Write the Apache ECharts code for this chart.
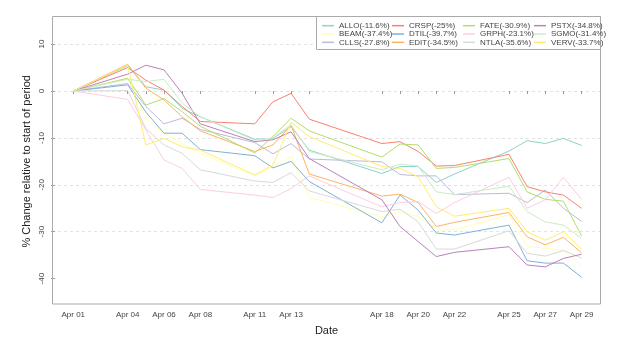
<!DOCTYPE html>
<html>
<head>
<meta charset="utf-8">
<script src="https://cdn.jsdelivr.net/npm/echarts@6/dist/echarts.min.js"></script>
<style>html,body{margin:0;padding:0;background:#fff;}#c{width:627px;height:344px;}</style>
</head>
<body>
<div id="c"></div>
<script>
// Trading days in April (day of month)
const days = [1,4,5,6,7,8,11,12,13,14,18,19,20,21,22,25,26,27,28,29];
const tickLabelDays = [1,4,6,8,11,13,18,20,22,25,27,29];
const yTickValues = [-40,-30,-20,-10,0,10];

const seriesNames = ['ALLO(-11.6%)','BEAM(-37.4%)','CLLS(-27.8%)','CRSP(-25%)','DTIL(-39.7%)','EDIT(-34.5%)',
                     'FATE(-30.9%)','GRPH(-23.1%)','NTLA(-35.6%)','PSTX(-34.8%)','SGMO(-31.4%)','VERV(-33.7%)'];
const seriesColors = ['#8DD3C7','#FFFFB3','#BEBADA','#FB8072','#80B1D3','#FDB462',
                      '#B3DE69','#FCCDE5','#D9D9D9','#BC80BD','#CCEBC5','#FFED6F'];

const ALLO = [0, 5.4, 0.9, 0.2, -3.7, -5.5, -10.3, -10.1, -7.6, -12.6, -17.6, -16.1, -16.1, -19.5, -17.7, -12.8, -10.6, -11.2, -10.1, -11.6];
const BEAM = [0, 2.8, -5.8, -9.0, -11.2, -13.3, -18.1, -16.1, -14.0, -22.7, -26.8, -25.7, -26.8, -29.6, -29.6, -26.4, -33.2, -33.5, -34.0, -37.4];
const CLLS = [0, 1.6, -3.3, -7.0, -5.8, -8.2, -11.0, -13.4, -11.2, -14.5, -15.1, -17.8, -18.1, -18.1, -22.1, -21.8, -23.8, -21.1, -25.0, -27.8];
const CRSP = [0, 5.0, 2.3, 0.2, -3.3, -6.5, -7.0, -2.3, -0.5, -6.0, -11.2, -10.8, -12.9, -16.0, -15.9, -13.5, -20.4, -21.5, -22.2, -25.0];
const DTIL = [0, 1.3, -4.5, -9.0, -9.0, -12.5, -13.8, -16.4, -15.0, -19.3, -28.1, -22.2, -25.4, -30.3, -30.7, -28.6, -36.2, -36.7, -36.7, -39.7];
const EDIT = [0, 5.7, 0.6, -1.9, -5.5, -8.5, -12.9, -11.5, -7.3, -17.7, -22.4, -22.0, -23.8, -28.9, -28.0, -25.9, -31.1, -32.8, -31.2, -34.5];
const FATE = [0, 2.7, -3.0, -1.6, -4.4, -7.5, -13.2, -9.7, -5.8, -8.5, -14.1, -11.3, -11.5, -16.5, -16.3, -14.4, -21.5, -23.1, -23.5, -30.9];
const GRPH = [0, -1.8, -8.3, -14.7, -16.5, -21.0, -22.2, -22.7, -20.8, -18.1, -24.7, -23.8, -23.6, -26.1, -23.8, -18.4, -25.0, -23.2, -18.4, -23.1];
const NTLA = [0, 0.1, -8.0, -11.5, -13.3, -16.8, -19.2, -19.5, -17.4, -21.3, -25.7, -25.2, -27.9, -33.7, -33.7, -29.8, -34.6, -35.2, -34.0, -35.6];
const PSTX = [0, 3.6, 5.5, 4.5, -0.5, -7.0, -10.8, -10.4, -8.7, -14.4, -23.2, -28.9, -32.1, -35.3, -34.4, -33.2, -37.1, -37.5, -35.7, -34.8];
const SGMO = [0, 2.5, 2.0, 2.5, -2.6, -5.5, -10.5, -10.0, -7.2, -12.9, -16.8, -15.6, -16.0, -21.5, -22.1, -20.3, -25.7, -27.9, -28.6, -31.4];
const VERV = [0, 5.5, -11.5, -10.1, -11.9, -12.6, -17.9, -15.8, -6.7, -9.7, -16.1, -16.5, -18.3, -24.7, -26.7, -25.0, -30.0, -31.8, -30.0, -33.7];

const allValues = [ALLO, BEAM, CLLS, CRSP, DTIL, EDIT, FATE, GRPH, NTLA, PSTX, SGMO, VERV];

const chart = echarts.init(document.getElementById('c'), null, {renderer: 'canvas'});

const series = seriesNames.map((name, i) => ({
  name: name,
  type: 'line',
  data: days.map((d, j) => [d, allValues[i][j]]),
  symbol: 'none',
  lineStyle: {color: seriesColors[i], width: 1},
  itemStyle: {color: seriesColors[i]},
  emphasis: {disabled: true},
  silent: true,
  z: 2 + i * 0.01
}));

const legendCols = [322, 392, 463, 534];
const legends = legendCols.map((x, c) => ({
  orient: 'vertical',
  left: x,
  top: 21.5,
  padding: 0,
  itemGap: 0,
  itemWidth: 12,
  itemHeight: 1.5,
  icon: 'rect',
  selectedMode: false,
  z: 10,
  textStyle: {fontSize: 8, lineHeight: 8.33, color: '#444', fontFamily: 'Liberation Sans, Arial, sans-serif', padding: [0,0,0,0]},
  data: seriesNames.slice(c * 3, c * 3 + 3)
}));

const pad2 = d => (d < 10 ? '0' : '') + d;

chart.setOption({
  animation: false,
  backgroundColor: '#fff',
  textStyle: {fontFamily: 'Liberation Sans, Arial, sans-serif'},
  grid: {left: 52, right: 26, top: 20.65, bottom: 41.95, containLabel: false},
  legend: legends,
  xAxis: {
    type: 'value',
    min: -0.17,
    max: 30.07,
    offset: 2,
    axisLine: {show: false},
    splitLine: {show: false},
    axisTick: {show: true, customValues: days, length: 3, lineStyle: {color: '#999'}},
    axisLabel: {customValues: tickLabelDays, formatter: v => 'Apr ' + pad2(Math.round(v)), fontSize: 8, color: '#444', margin: 7},
    name: 'Date',
    nameLocation: 'middle',
    nameGap: 21,
    nameMoveOverlap: false,
    nameTextStyle: {fontSize: 11, color: '#222'}
  },
  yAxis: {
    type: 'value',
    min: -45,
    max: 15,
    interval: 5,
    axisLine: {show: false},
    splitLine: {show: true, showMinLine: false, lineStyle: {color: '#e2e2e2', type: [3, 3], width: 1}},
    axisTick: {show: true, customValues: yTickValues, length: 4, lineStyle: {color: '#999'}},
    axisLabel: {customValues: yTickValues, rotate: 90, fontSize: 8, color: '#444', margin: 6},
    name: '% Change relative to start of period',
    nameLocation: 'middle',
    nameGap: 20,
    nameMoveOverlap: false,
    nameRotate: 90,
    nameTextStyle: {fontSize: 11, color: '#222'}
  },
  graphic: [
    {type: 'rect', shape: {x: 52.5, y: 16.5, width: 548, height: 287.5}, style: {fill: null, stroke: '#aaa', lineWidth: 1}, z: 6, silent: true},
    {type: 'rect', shape: {x: 316.5, y: 16.5, width: 284, height: 33}, style: {fill: '#fff', stroke: '#aaa', lineWidth: 1}, z: 5, silent: true}
  ],
  series: series
});
</script>
</body>
</html>
